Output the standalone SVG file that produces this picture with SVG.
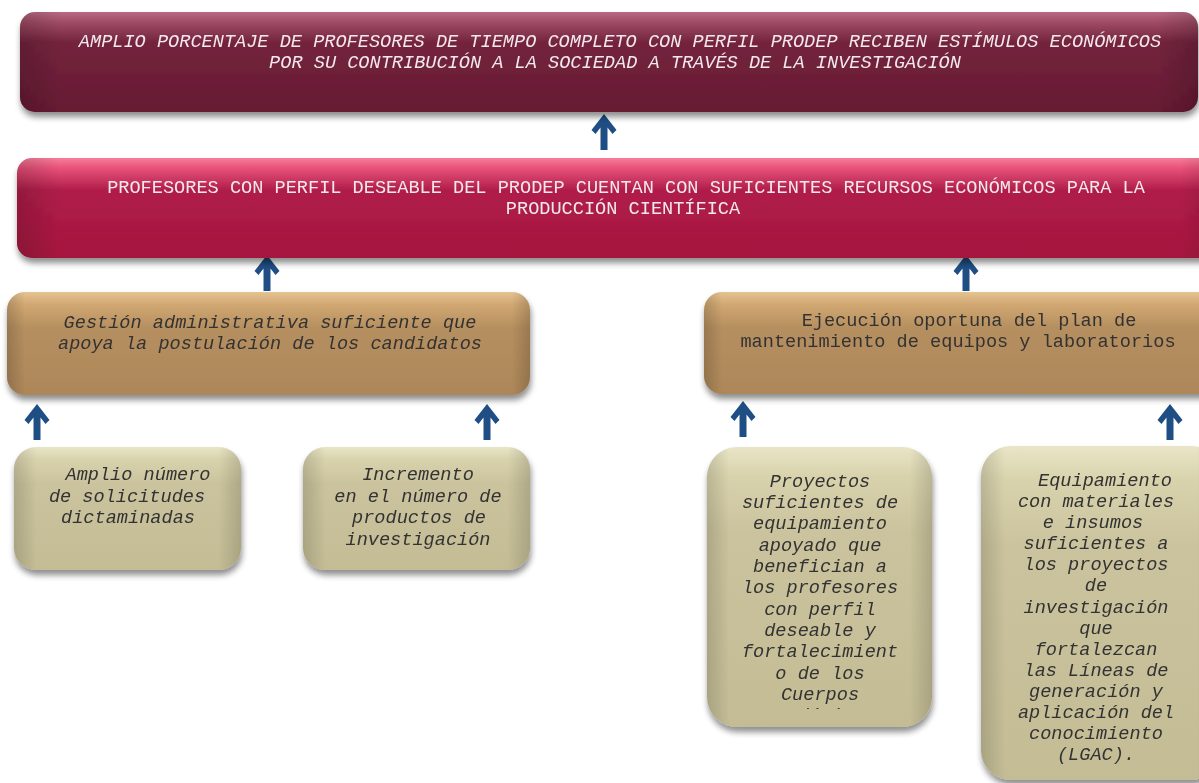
<svg xmlns="http://www.w3.org/2000/svg" width="1199" height="783" viewBox="0 0 1199 783">
<style>
.t{font-family:"Liberation Mono","Courier New",monospace;font-size:18.6px;text-anchor:middle}
.i{font-style:italic}
.w{fill:#f3e8ec}
.d{fill:#333}
</style>
<defs>
<filter id="sh" x="-5%" y="-10%" width="110%" height="130%">
<feGaussianBlur in="SourceAlpha" stdDeviation="3"/>
<feOffset dx="1" dy="5" result="b"/>
<feComponentTransfer><feFuncA type="linear" slope="0.45"/></feComponentTransfer>
<feMerge><feMergeNode/><feMergeNode in="SourceGraphic"/></feMerge>
</filter>
<linearGradient id="g1" x1="0" y1="0" x2="0" y2="1">
<stop offset="0" stop-color="#b86a82"/><stop offset="0.1" stop-color="#a04c66"/><stop offset="0.3" stop-color="#74243e"/><stop offset="1" stop-color="#661a32"/>
</linearGradient>
<linearGradient id="g2" x1="0" y1="0" x2="0" y2="1">
<stop offset="0" stop-color="#f77e98"/><stop offset="0.1" stop-color="#e8517a"/><stop offset="0.32" stop-color="#b01e4a"/><stop offset="1" stop-color="#a5143e"/>
</linearGradient>
<linearGradient id="g3" x1="0" y1="0" x2="0" y2="1">
<stop offset="0" stop-color="#e6c391"/><stop offset="0.12" stop-color="#d1a872"/><stop offset="0.35" stop-color="#b68f60"/><stop offset="1" stop-color="#ad8759"/>
</linearGradient>
<linearGradient id="g4" x1="0" y1="0" x2="0" y2="1">
<stop offset="0" stop-color="#e9e5c6"/><stop offset="0.1" stop-color="#d9d3ad"/><stop offset="0.3" stop-color="#cac39d"/><stop offset="1" stop-color="#c3bc95"/>
</linearGradient>
<linearGradient id="side" x1="0" y1="0" x2="1" y2="0">
<stop offset="0" stop-color="#000" stop-opacity="0.16"/><stop offset="0.035" stop-color="#000" stop-opacity="0"/><stop offset="0.965" stop-color="#000" stop-opacity="0"/><stop offset="1" stop-color="#000" stop-opacity="0.16"/>
</linearGradient>
<linearGradient id="sideN" x1="0" y1="0" x2="1" y2="0">
<stop offset="0" stop-color="#000" stop-opacity="0.14"/><stop offset="0.1" stop-color="#000" stop-opacity="0"/><stop offset="0.9" stop-color="#000" stop-opacity="0"/><stop offset="1" stop-color="#000" stop-opacity="0.14"/>
</linearGradient>
<clipPath id="c3"><rect x="712" y="452" width="215" height="257"/></clipPath>
<path id="arr" d="M0,0 L12.5,16 L8.5,20 L3.5,13.5 L3.5,36 L-3.5,36 L-3.5,13.5 L-8.5,20 L-12.5,16 Z" fill="#1f4e85"/>
</defs>

<g id="connectors">
<use href="#arr" x="604" y="114"/>
<use href="#arr" x="267" y="255"/>
<use href="#arr" x="966" y="255"/>
<use href="#arr" x="37" y="404"/>
<use href="#arr" x="487" y="404"/>
<use href="#arr" x="743" y="401"/>
<use href="#arr" x="1170" y="404"/>
</g>

<g id="n1" filter="url(#sh)">
<rect x="20" y="12" width="1178" height="100" rx="15" fill="url(#g1)"/>
<rect x="20" y="12" width="1178" height="100" rx="15" fill="url(#side)"/>
<text class="t i w" x="620" y="47">AMPLIO PORCENTAJE DE PROFESORES DE TIEMPO COMPLETO CON PERFIL PRODEP RECIBEN ESTÍMULOS ECONÓMICOS</text>
<text class="t i w" x="615" y="68">POR SU CONTRIBUCIÓN A LA SOCIEDAD A TRAVÉS DE LA INVESTIGACIÓN</text>
</g>

<g id="n2" filter="url(#sh)">
<rect x="17" y="158" width="1205" height="100" rx="15" fill="url(#g2)"/>
<rect x="17" y="158" width="1205" height="100" rx="15" fill="url(#side)"/>
<text class="t w" x="626" y="193">PROFESORES CON PERFIL DESEABLE DEL PRODEP CUENTAN CON SUFICIENTES RECURSOS ECONÓMICOS PARA LA</text>
<text class="t w" x="623" y="214">PRODUCCIÓN CIENTÍFICA</text>
</g>

<g id="n3" filter="url(#sh)">
<rect x="7" y="292" width="523" height="103" rx="18" fill="url(#g3)"/>
<rect x="7" y="292" width="523" height="103" rx="18" fill="url(#side)"/>
<text class="t i d" x="270" y="328">Gestión administrativa suficiente que</text>
<text class="t i d" x="270" y="349">apoya la postulación de los candidatos</text>
</g>

<g id="n4" filter="url(#sh)">
<rect x="704" y="292" width="520" height="102" rx="18" fill="url(#g3)"/>
<rect x="704" y="292" width="520" height="102" rx="18" fill="url(#side)"/>
<text class="t d" x="969" y="326">Ejecución oportuna del plan de</text>
<text class="t d" x="958" y="347">mantenimiento de equipos y laboratorios</text>
</g>

<g id="n5" filter="url(#sh)">
<rect x="14" y="447" width="227" height="123" rx="22" fill="url(#g4)"/>
<rect x="14" y="447" width="227" height="123" rx="22" fill="url(#sideN)"/>
<text class="t i d" x="138" y="480">Amplio número</text>
<text class="t i d" x="127" y="502">de solicitudes</text>
<text class="t i d" x="128" y="523">dictaminadas</text>
</g>

<g id="n6" filter="url(#sh)">
<rect x="303" y="447" width="227" height="123" rx="22" fill="url(#g4)"/>
<rect x="303" y="447" width="227" height="123" rx="22" fill="url(#sideN)"/>
<text class="t i d" x="418" y="480">Incremento</text>
<text class="t i d" x="418" y="502">en el número de</text>
<text class="t i d" x="419" y="523">productos de</text>
<text class="t i d" x="418" y="545">investigación</text>
</g>

<g id="n7" filter="url(#sh)">
<rect x="707" y="447" width="225" height="280" rx="30" fill="url(#g4)"/>
<rect x="707" y="447" width="225" height="280" rx="30" fill="url(#sideN)"/>
<g clip-path="url(#c3)">
<text class="t i d" x="820" y="487">Proyectos</text>
<text class="t i d" x="820" y="508">suficientes de</text>
<text class="t i d" x="820" y="529">equipamiento</text>
<text class="t i d" x="820" y="551">apoyado que</text>
<text class="t i d" x="820" y="572">benefician a</text>
<text class="t i d" x="820" y="593">los profesores</text>
<text class="t i d" x="820" y="615">con perfil</text>
<text class="t i d" x="820" y="636">deseable y</text>
<text class="t i d" x="820" y="657">fortalecimient</text>
<text class="t i d" x="820" y="679">o de los</text>
<text class="t i d" x="820" y="700">Cuerpos</text>
<text class="t i d" x="820" y="721">Académicos</text>
</g>
</g>

<g id="n8" filter="url(#sh)">
<rect x="981" y="446" width="240" height="334" rx="30" fill="url(#g4)"/>
<rect x="981" y="446" width="240" height="334" rx="30" fill="url(#sideN)"/>
<text class="t i d" x="1105" y="486">Equipamiento</text>
<text class="t i d" x="1096" y="507">con materiales</text>
<text class="t i d" x="1093" y="528">e insumos</text>
<text class="t i d" x="1096" y="549">suficientes a</text>
<text class="t i d" x="1096" y="570">los proyectos</text>
<text class="t i d" x="1096" y="591">de</text>
<text class="t i d" x="1096" y="613">investigación</text>
<text class="t i d" x="1096" y="634">que</text>
<text class="t i d" x="1096" y="655">fortalezcan</text>
<text class="t i d" x="1096" y="676">las Líneas de</text>
<text class="t i d" x="1096" y="697">generación y</text>
<text class="t i d" x="1096" y="718">aplicación del</text>
<text class="t i d" x="1096" y="739">conocimiento</text>
<text class="t i d" x="1096" y="760">(LGAC).</text>
</g>
</svg>
